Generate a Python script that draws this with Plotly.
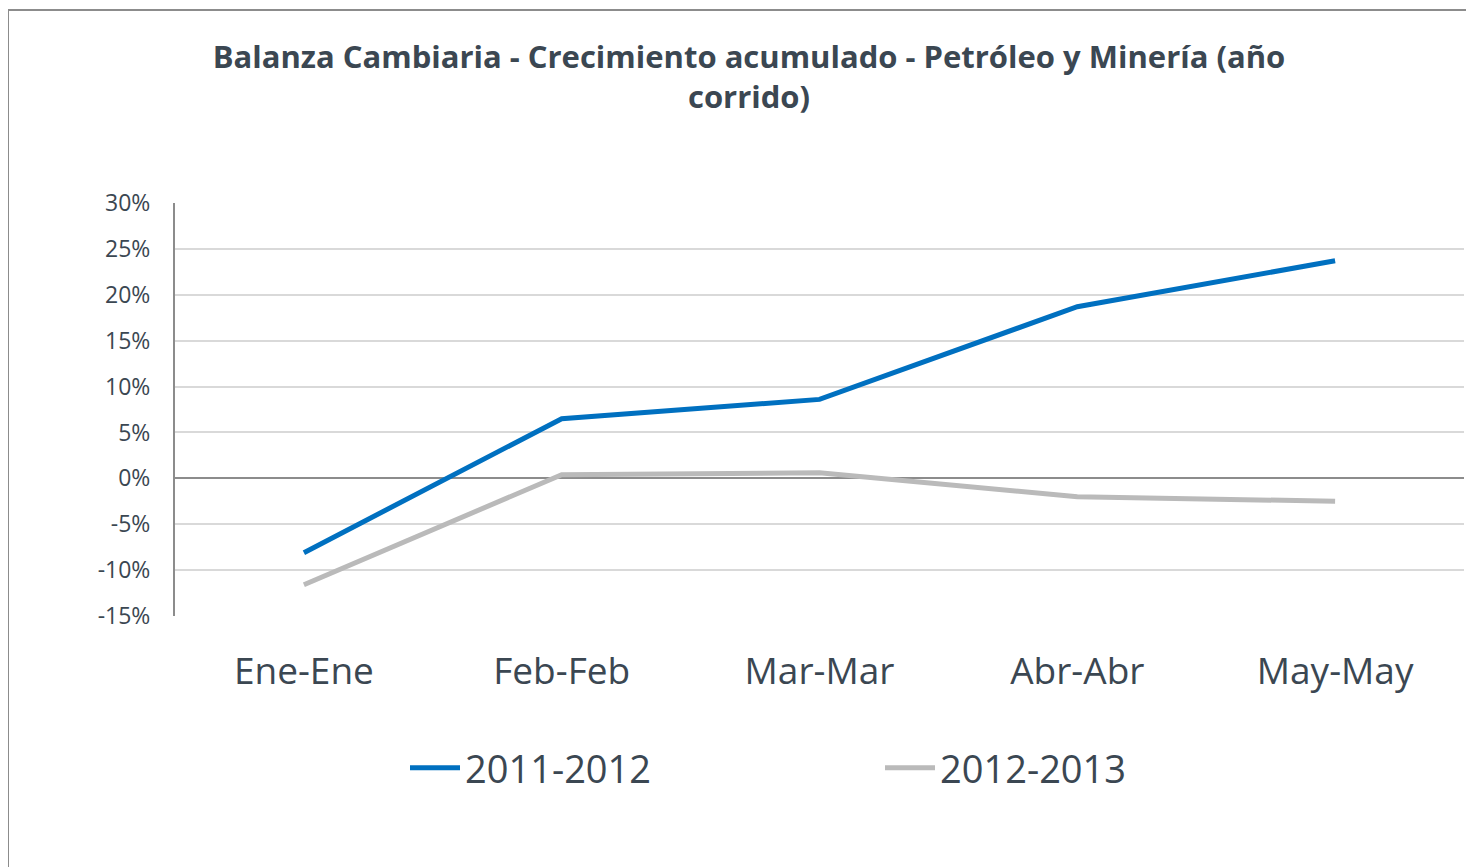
import plotly.graph_objects as go

categories = ["Ene-Ene", "Feb-Feb", "Mar-Mar", "Abr-Abr", "May-May"]
serie_2011_2012 = [-0.081, 0.065, 0.086, 0.187, 0.237]
serie_2012_2013 = [-0.116, 0.004, 0.006, -0.020, -0.025]
y_ticks = [-0.15, -0.10, -0.05, 0.0, 0.05, 0.10, 0.15, 0.20, 0.25, 0.30]
y_tick_labels = ["-15%", "-10%", "-5%", "0%", "5%", "10%", "15%", "20%", "25%", "30%"]

TEXT = "#3b4752"
FONT = "'Open Sans', Lato, sans-serif"

fig = go.Figure()
fig.add_trace(go.Scatter(x=categories, y=serie_2011_2012, mode="lines", name="2011-2012",
                         line=dict(color="#0070C0", width=5)))
fig.add_trace(go.Scatter(x=categories, y=serie_2012_2013, mode="lines", name="2012-2013",
                         line=dict(color="#BABABA", width=5)))

OFF = 8  # page body margin
W, H = 1474 - OFF, 867 - OFF
L, T = 175 - OFF, 203 - OFF
R = W - (1464 - OFF)
B = H - (616 - OFF)
pw = W - L - R
ph = H - T - B

fig.update_layout(
    width=W, height=H,
    margin=dict(l=L, r=R, t=T, b=B, autoexpand=False),
    paper_bgcolor="white", plot_bgcolor="white",
    font=dict(family=FONT, color=TEXT),
    title=dict(text="<b>Balanza Cambiaria - Crecimiento acumulado - Petróleo y Minería (año<br>corrido)</b>",
               x=(749 - OFF) / W, xanchor="center", y=1 - (34 + 34 - OFF) / H, yanchor="top",
               font=dict(size=31, color=TEXT, family=FONT)),
    xaxis=dict(type="category", range=[-0.5, 4.5], showgrid=False, showline=False,
               zeroline=False, ticks="", tickfont=dict(size=37, color=TEXT),
               ticklabelstandoff=30, tickangle=0, automargin=False),
    yaxis=dict(range=[-0.15, 0.30], tickvals=y_ticks, ticktext=y_tick_labels,
               showgrid=True, gridcolor="#D9D9D9", gridwidth=2,
               zeroline=True, zerolinecolor="#8C8C8C", zerolinewidth=2,
               showline=True, linecolor="#8C8C8C", linewidth=2,
               ticks="", tickfont=dict(size=23, color=TEXT), ticklabelstandoff=18,
               automargin=False),
    legend=dict(orientation="h", x=(405 - 175) / pw, xref="paper", xanchor="left",
                y=(616 - 768) / ph, yanchor="middle",
                font=dict(size=38, color=TEXT, family=FONT),
                entrywidth=410, entrywidthmode="pixels", itemwidth=50,
                bgcolor="rgba(0,0,0,0)"),
    showlegend=True,
)

fig.add_shape(type="rect", xref="paper", yref="paper",
              x0=(8 - 175) / pw, x1=(1490 - 175) / pw,
              y0=(616 - 880) / ph, y1=1 + (203 - 10) / ph,
              line=dict(color="#8C8C8C", width=2), layer="below")

fig.write_html("out.html")
